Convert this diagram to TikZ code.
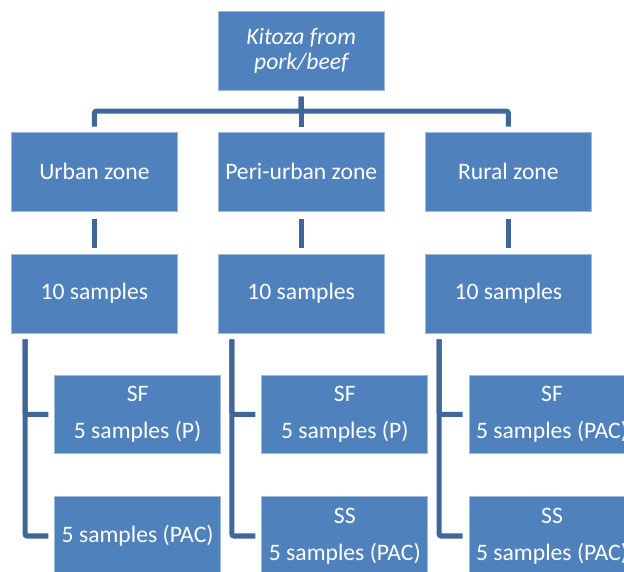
\documentclass[tikz,border=0pt]{standalone}
\usepackage{fontspec}
\setmainfont{Carlito}
\usepackage{xcolor}
\usepackage{tikz}
\usetikzlibrary{shapes,arrows,positioning,calc}
\definecolor{boxblue}{HTML}{4F81BD}
\definecolor{linkblue}{HTML}{3F6797}
\tikzstyle{zone} = [rectangle, fill=boxblue, draw=boxblue!55!white, line width=0.5pt, minimum width=4.15cm, minimum height=1.97cm, text=white, align=center, font=\fontsize{16.8}{26.5}\selectfont]
\tikzstyle{link} = [draw=linkblue, line width=3.6pt, rounded corners=1.5pt]

\begin{document}
\begin{tikzpicture}[scale=1.0]
    \useasboundingbox (0,0) rectangle (15.6,-14.3);

    \node[zone, font=\fontsize{16.8}{18}\selectfont\itshape] (root) at (7.53,-1.275) {Kitoza from\\pork/beef};

    \node[zone] (z1) at (2.36,-4.29) {Urban zone};
    \node[zone] (z2) at (7.53,-4.29) {Peri-urban zone};
    \node[zone] (z3) at (12.71,-4.29) {Rural zone};
    \draw[link, shorten <=0.15cm, shorten >=0.13cm] (root.south) -- ++(0,-0.51) -| (z1.north);
    \draw[link, shorten <=0.15cm, shorten >=0.13cm] (root.south) -- ++(0,-0.51) -| (z3.north);
    \draw[link, shorten <=0.15cm, shorten >=0.13cm] (root.south) -- (z2.north);

    \node[zone] (n1) at (2.36,-7.34) {10 samples};
    \node[zone] (n2) at (7.53,-7.34) {10 samples};
    \node[zone] (n3) at (12.71,-7.34) {10 samples};
    \draw[link, shorten <=0.2cm, shorten >=0.15cm] (z1) -- (n1);
    \draw[link, shorten <=0.2cm, shorten >=0.15cm] (z2) -- (n2);
    \draw[link, shorten <=0.2cm, shorten >=0.15cm] (z3) -- (n3);

    \node[zone] (a1) at (3.44,-10.36) {SF\\5 samples (P)};
    \node[zone] (a2) at (8.62,-10.36) {SF\\5 samples (P)};
    \node[zone] (a3) at (13.8,-10.36) {SF\\5 samples (PAC)};
    \node[zone] (b1) at (3.44,-13.4) {5 samples (PAC)};
    \node[zone] (b2) at (8.62,-13.4) {SS\\5 samples (PAC)};
    \node[zone] (b3) at (13.8,-13.4) {SS\\5 samples (PAC)};

    \draw[link, shorten >=0.15cm] ([xshift=0.35cm,yshift=-0.15cm]n1.south west) |- (a1.west);
    \draw[link, shorten >=0.15cm] ([xshift=0.35cm,yshift=-0.15cm]n1.south west) |- (b1.west);
    \draw[link, shorten >=0.15cm] ([xshift=0.35cm,yshift=-0.15cm]n2.south west) |- (a2.west);
    \draw[link, shorten >=0.15cm] ([xshift=0.35cm,yshift=-0.15cm]n2.south west) |- (b2.west);
    \draw[link, shorten >=0.15cm] ([xshift=0.35cm,yshift=-0.15cm]n3.south west) |- (a3.west);
    \draw[link, shorten >=0.15cm] ([xshift=0.35cm,yshift=-0.15cm]n3.south west) |- (b3.west);
\end{tikzpicture}
\end{document}
